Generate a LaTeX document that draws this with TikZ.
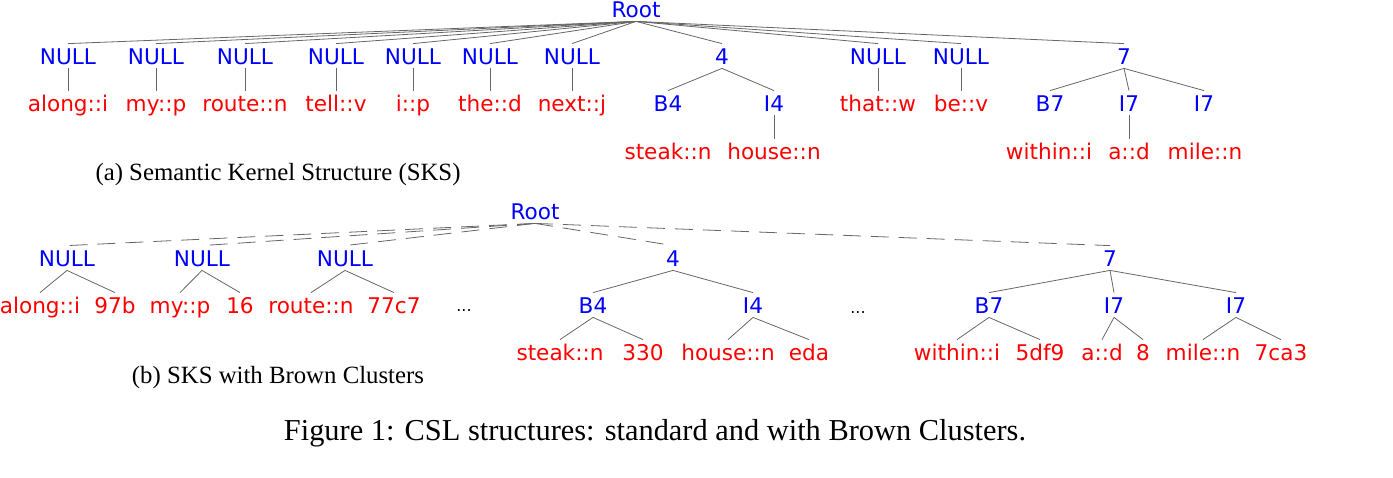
\documentclass[tikz,border=0pt]{standalone}
\usepackage{fontspec}
\setmainfont{Liberation Serif}
\newfontfamily\labfont{DejaVu Sans}

\begin{document}
\begin{tikzpicture}[x=0.5pt,y=-0.5pt,
  every node/.style={inner sep=2pt, text height=8pt, text depth=0pt, font=\labfont\fontsize{10.8}{12}\selectfont},
  inner/.style={text=blue},
  leaf/.style={text=red},
  edge/.style={draw=black!60, line width=0.4pt},
  far/.style={edge, dash pattern=on 9pt off 5pt},
  dots/.style={text=black, font=\labfont\fontsize{8}{9}\selectfont},
  subcap/.style={font=\fontsize{12.4}{14}\selectfont, text height=8.2pt},
  figcap/.style={font=\fontsize{15.2}{17}\selectfont, text height=10pt}]
\useasboundingbox (0,0) rectangle (1393,477);

% (a) semantic kernel structure
\node[inner] (aroot) at (636,9) {Root};
\foreach \x/\w [count=\i] in {68/along::i, 156/my::p, 245/route::n, 336/tell::v, 413/i::p, 490/the::d, 572/next::j, 878/that::w, 961/be::v} {
  \node[inner] (anull\i) at (\x,56) {NULL};
  \node[leaf] (aw\i) at (\x,103) {\w};
  \draw[edge] (aroot.south) -- (anull\i.north);
  \draw[edge] (anull\i) -- (aw\i);
}
\node[inner] (a4) at (722,56) {4};
\node[inner] (ab4) at (668,103) {B4};
\node[inner] (ai4) at (774,103) {I4};
\node[leaf] (asteak) at (668,151) {steak::n};
\node[leaf] (ahouse) at (774,151) {house::n};
\node[inner] (a7) at (1124,56) {7};
\node[inner] (ab7) at (1050,103) {B7};
\node[inner] (ai7) at (1129,103) {I7};
\node[inner] (aj7) at (1204,103) {I7};
\node[leaf] (awithin) at (1049,151) {within::i};
\node[leaf] (aa) at (1129,151) {a::d};
\node[leaf] (amile) at (1205,151) {mile::n};
\draw[edge] (aroot.south) -- (a4.north);
\draw[edge] (aroot.south) -- (a7.north);
\draw[edge] (a4.south) -- (ab4.north);
\draw[edge] (a4.south) -- (ai4.north);
\draw[edge] (ai4) -- (ahouse);
\draw[edge] (a7.south) -- (ab7.north);
\draw[edge] (a7.south) -- (ai7.north);
\draw[edge] (a7.south) -- (aj7.north);
\draw[edge] (ai7) -- (aa);
\node[subcap] (capa) at (278,172) {(a) Semantic Kernel Structure (SKS)};

% (b) with brown clusters
\node[inner] (broot) at (535,211) {Root};
\foreach \x/\l/\wa/\r/\wb [count=\i] in {67/40/along::i/115/97b, 202/180/my::p/240/16, 345/311/route::n/394/77c7} {
  \node[inner] (bnull\i) at (\x,258) {NULL};
  \node[leaf] (bwa\i) at (\l,305) {\wa};
  \node[leaf] (bwb\i) at (\r,305) {\wb};
  \draw[far] (broot.south) -- (bnull\i.north);
  \draw[edge] (bnull\i.south) -- (bwa\i.north);
  \draw[edge] (bnull\i.south) -- (bwb\i.north);
}
\node[dots] (bdotsa) at (464,303) {...};
\node[dots] (bdotsb) at (858,305) {...};
\node[inner] (b4) at (673,258) {4};
\node[inner] (bb4) at (593,305) {B4};
\node[inner] (bi4) at (753,305) {I4};
\node[leaf] (bsteak) at (560,352) {steak::n};
\node[leaf] (bsteakc) at (643,352) {330};
\node[leaf] (bhouse) at (728,352) {house::n};
\node[leaf] (bhousec) at (809,352) {eda};
\node[inner] (b7) at (1110,258) {7};
\node[inner] (bb7) at (989,305) {B7};
\node[inner] (bi7) at (1114,305) {I7};
\node[inner] (bj7) at (1236,305) {I7};
\node[leaf] (bwithin) at (957,352) {within::i};
\node[leaf] (bwithinc) at (1040,352) {5df9};
\node[leaf] (ba) at (1102,352) {a::d};
\node[leaf] (bac) at (1143,352) {8};
\node[leaf] (bmile) at (1203,352) {mile::n};
\node[leaf] (bmilec) at (1281,352) {7ca3};
\draw[far] (broot.south) -- (b4.north);
\draw[far] (broot.south) -- (b7.north);
\draw[edge] (b4.south) -- (bb4.north);
\draw[edge] (b4.south) -- (bi4.north);
\draw[edge] (b7.south) -- (bb7.north);
\draw[edge] (b7.south) -- (bi7.north);
\draw[edge] (b7.south) -- (bj7.north);
\foreach \p/\c in {bb4/bsteak, bb4/bsteakc, bi4/bhouse, bi4/bhousec, bb7/bwithin, bb7/bwithinc, bi7/ba, bi7/bac, bj7/bmile, bj7/bmilec}
  \draw[edge] (\p.south) -- (\c.north);
\node[subcap] (capb) at (278,375) {(b) SKS with Brown Clusters};

\node[figcap] (fig) at (655,430) {Figure 1: CSL structures: standard and with Brown Clusters.};
\end{tikzpicture}
\end{document}
